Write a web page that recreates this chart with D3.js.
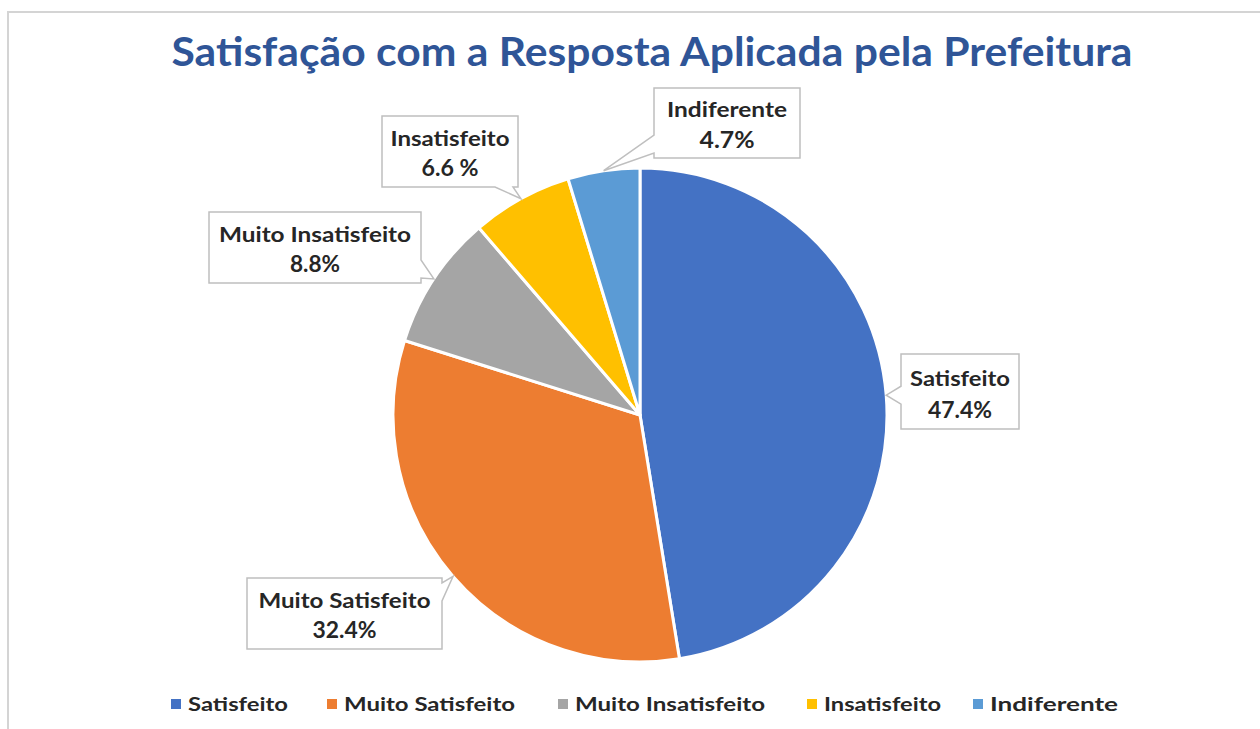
<!DOCTYPE html>
<html><head><meta charset="utf-8">
<script src="https://cdn.jsdelivr.net/npm/d3@7"></script>
<style>body{margin:0;background:#fff}svg{display:block}</style>
</head><body>
<script>
const categories = ["Satisfeito","Muito Satisfeito","Muito Insatisfeito","Insatisfeito","Indiferente"];
const values = [47.4, 32.4, 8.8, 6.6, 4.7];
const valueLabels = ["47.4%","32.4%","8.8%","6.6 %","4.7%"];
const title = "Satisfação com a Resposta Aplicada pela Prefeitura";

const colors = ["#4472C4","#ED7D31","#A5A5A5","#FFC000","#5B9BD5"];
// callout boxes layout [x0,y0,x1,y1]
const boxes = [[901,354,1019,429],[247,578,442,649],[209,212,421,283],[382,116,518,187],[654,88,800,158]];
const nameW = [100,172,192,119,120];
const valW = [64,64,50,57,55];
const legendX = [171,327,558,807,973];
const legendW = [100,171,190,117,128];

const W=1260,H=729;
const svg=d3.select("body").append("svg").attr("width",W).attr("height",H);
const font="Lato, 'Open Sans', sans-serif";

// frame
svg.append("path").attr("d","M8,729 L8,12 L1260,12").attr("fill","none").attr("stroke","#d4d4d4").attr("stroke-width",2);

svg.append("text").attr("x",652).attr("y",66).attr("text-anchor","middle")
 .attr("font-family",font).attr("font-weight","bold").attr("font-size",40)
 .attr("fill","#2F5597").attr("textLength",961).attr("lengthAdjust","spacingAndGlyphs").text(title);

const cx=640, cy=415, R=247;
const color=d3.scaleOrdinal().domain(categories).range(colors);
const pie=d3.pie().sort(null).value(d=>d.v);
const data=pie(categories.map((c,i)=>({c,v:values[i],l:valueLabels[i],i})));
const arc=d3.arc().innerRadius(0).outerRadius(R);
const g=svg.append("g").attr("transform",`translate(${cx},${cy})`);
g.selectAll("path").data(data).join("path").attr("d",arc)
 .attr("fill",d=>color(d.data.c)).attr("stroke","#fff").attr("stroke-width",3).attr("stroke-linejoin","round");

function calloutPath(b,a){
  const [x0,y0,x1,y1]=b;
  const dxo=a[0]<x0?x0-a[0]:a[0]>x1?a[0]-x1:0;
  const dyo=a[1]<y0?y0-a[1]:a[1]>y1?a[1]-y1:0;
  const hw=9;
  let side;
  if(dxo>=dyo) side=a[0]<x0?"left":"right"; else side=a[1]<y0?"top":"bottom";
  const cyc=Math.max(y0+14,Math.min(y1-14,a[1]));
  const cxc=Math.max(x0+14,Math.min(x1-14,a[0]));
  let p=`M${x0},${y0}`;
  if(side==="top") p+=`L${cxc-hw},${y0}L${a[0]},${a[1]}L${cxc+hw},${y0}`;
  p+=`L${x1},${y0}`;
  if(side==="right") p+=`L${x1},${cyc-hw}L${a[0]},${a[1]}L${x1},${cyc+hw}`;
  p+=`L${x1},${y1}`;
  if(side==="bottom") p+=`L${cxc+hw},${y1}L${a[0]},${a[1]}L${cxc-hw},${y1}`;
  p+=`L${x0},${y1}`;
  if(side==="left") p+=`L${x0},${cyc+hw}L${a[0]},${a[1]}L${x0},${cyc-hw}`;
  return p+"Z";
}
const anchorArc=d3.arc().innerRadius(R*2).outerRadius(0);
data.forEach(d=>{
  const i=d.data.i, b=boxes[i];
  const m=(d.startAngle+d.endAngle)/2;
  const a=[cx+R*Math.sin(m), cy-R*Math.cos(m)];
  svg.append("path").attr("d",calloutPath(b,a)).attr("fill","#fff").attr("stroke","#bfbfbf").attr("stroke-width",1.5);
  const mx=(b[0]+b[2])/2, h=b[3]-b[1];
  svg.append("text").attr("x",mx).attr("y",b[1]+h*0.42).attr("text-anchor","middle")
   .attr("font-family",font).attr("font-weight","bold").attr("font-size",21).attr("fill","#262626")
   .attr("textLength",nameW[i]).attr("lengthAdjust","spacingAndGlyphs").text(d.data.c);
  svg.append("text").attr("x",mx).attr("y",b[1]+h*0.85).attr("text-anchor","middle")
   .attr("font-family",font).attr("font-weight","bold").attr("font-size",22).attr("fill","#262626")
   .attr("textLength",valW[i]).attr("lengthAdjust","spacingAndGlyphs").text(d.data.l);
});

// legend
const lg=svg.append("g");
categories.forEach((c,i)=>{
  lg.append("rect").attr("x",legendX[i]).attr("y",699).attr("width",10).attr("height",10).attr("fill",color(c));
  lg.append("text").attr("x",legendX[i]+17).attr("y",711).attr("font-family",font).attr("font-weight","bold")
   .attr("font-size",19).attr("fill","#262626").attr("textLength",legendW[i]).attr("lengthAdjust","spacingAndGlyphs").text(c);
});
</script>
</body></html>
